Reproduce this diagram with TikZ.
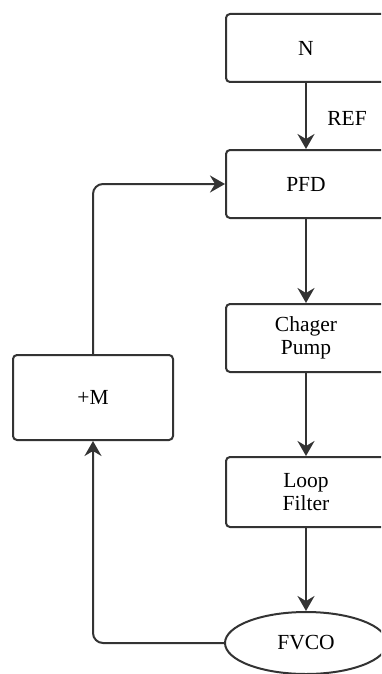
\documentclass[tikz,border=0pt]{standalone}
\usepackage{fontspec}
\setmainfont{Liberation Serif}
\usetikzlibrary{arrows.meta,shapes.geometric}
\begin{document}
\begin{tikzpicture}[x=1pt,y=-1pt,
  every node/.style={font=\fontsize{21.5}{23}\selectfont, text=black},
  blk/.style={draw=black!80, line width=2pt, rounded corners=4pt, minimum width=160pt, minimum height=68pt, inner sep=0pt, align=center, fill=white},
  oval/.style={draw=black!80, line width=2pt, ellipse, minimum width=162pt, minimum height=62pt, inner sep=0pt, fill=white},
  conn/.style={draw=black!80, line width=2pt, -{Stealth[length=15pt,width=17pt,inset=5pt]}}]
\useasboundingbox (0,0) rectangle (381,674);
\clip (0,0) rectangle (381,674);
\fill[white] (0,0) rectangle (381,674);
\node[blk] (N) at (306,48) {N};
\node[blk] (PFD) at (306,184) {PFD};
\node[blk] (CP) at (306,338) {Chager\\Pump};
\node[blk, minimum height=70pt] (LF) at (306,492) {Loop\\Filter};
\node[blk, minimum height=85pt] (M) at (93,397.5) {+M};
\node[oval] (F) at (306,643) {FVCO};
\node (ref) at (347,118) {REF};
\draw[conn] (N) -- (PFD);
\draw[conn] (PFD) -- (CP);
\draw[conn] (CP) -- (LF);
\draw[conn] (LF) -- (F);
\draw[conn, rounded corners=10pt] (F.west) -| (M.south);
\draw[conn, rounded corners=10pt] (M.north) |- (PFD.west);
\end{tikzpicture}
\end{document}
